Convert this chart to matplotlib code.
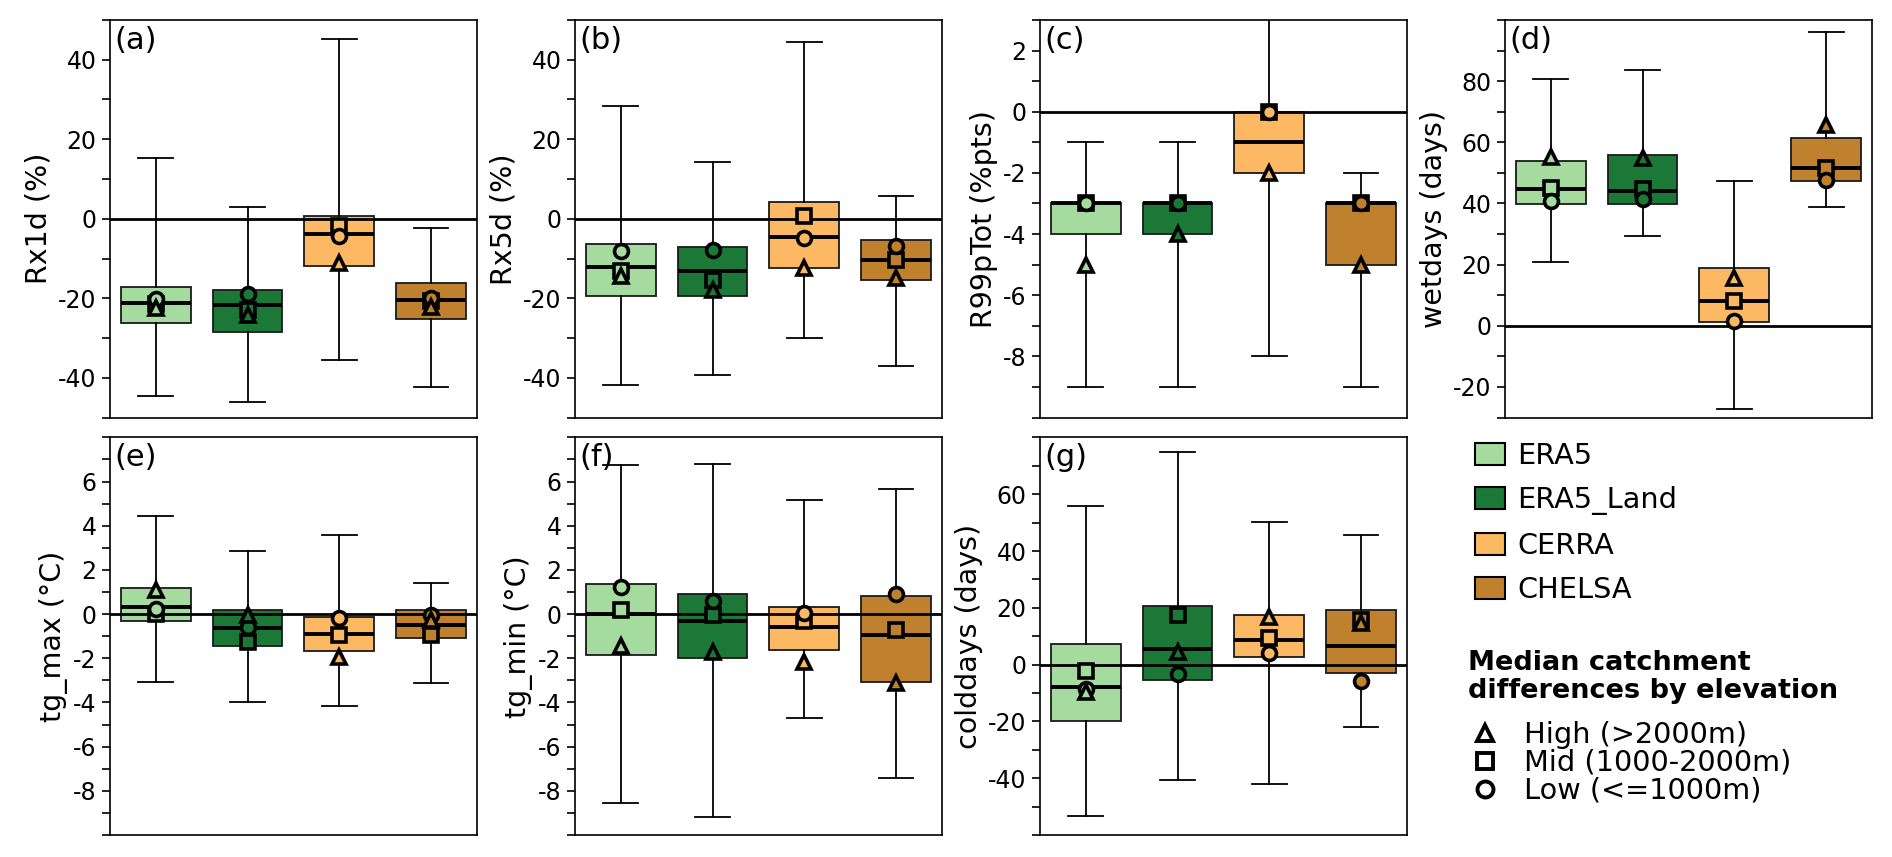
import matplotlib
matplotlib.use("Agg")
import numpy as np
import matplotlib.pyplot as plt
from matplotlib.patches import Patch
from matplotlib.lines import Line2D
from matplotlib.ticker import MultipleLocator

products = ["ERA5", "ERA5_Land", "CERRA", "CHELSA"]
colors = ["#a6dba0", "#1b7837", "#fdb863", "#bf812d"]
elevations = ["High (>2000m)", "Mid (1000-2000m)", "Low (<=1000m)"]

# box stats per product: whislo, q1, median, q3, whishi
rx1d_stats = [(-44.7, -26.2, -21.2, -17.2, 15.4),
              (-46.1, -28.5, -21.6, -17.9, 2.9),
              (-35.5, -12.0, -3.9, 0.6, 45.2),
              (-42.2, -25.2, -20.4, -16.2, -2.3)]
# median catchment difference per elevation band: high, mid, low
rx1d_elev = [(-22.5, -21.5, -20.3), (-24.3, -23.0, -18.9),
             (-11.1, -1.9, -4.4), (-22.2, -20.6, -20.0)]

rx5d_stats = [(-41.8, -19.4, -12.2, -6.4, 28.4),
              (-39.3, -19.5, -13.1, -7.0, 14.2),
              (-30.1, -12.4, -4.5, 4.2, 44.4),
              (-37.0, -15.5, -10.5, -5.3, 5.8)]
rx5d_elev = [(-14.5, -13.2, -8.2), (-17.9, -15.3, -7.8),
             (-12.4, 0.75, -4.9), (-14.9, -10.3, -6.8)]

r99_stats = [(-9, -4, -3, -3, -1),
             (-9, -4, -3, -3, -1),
             (-8, -2, -1, 0, 5),
             (-9, -5, -3, -3, -2)]
r99_elev = [(-5, -3, -3), (-4, -3, -3), (-2, 0, 0), (-5, -3, -3)]

wet_stats = [(20.9, 39.9, 44.7, 53.8, 80.8),
             (29.3, 39.9, 44.2, 55.9, 83.8),
             (-27.3, 1.2, 8.0, 18.9, 47.2),
             (38.7, 47.4, 51.5, 61.5, 96.1)]
wet_elev = [(55.3, 45.0, 40.9), (54.8, 44.7, 41.4),
            (15.7, 8.0, 1.5), (65.7, 51.5, 47.7)]

tgmax_stats = [(-3.07, -0.29, 0.32, 1.2, 4.45),
               (-4.0, -1.46, -0.63, 0.17, 2.86),
               (-4.15, -1.68, -0.89, -0.14, 3.58),
               (-3.14, -1.08, -0.48, 0.17, 1.4)]
tgmax_elev = [(1.07, 0.0, 0.24), (-0.05, -1.26, -0.59),
              (-1.94, -0.93, -0.18), (-0.25, -0.96, -0.06)]

tgmin_stats = [(-8.55, -1.86, 0.02, 1.37, 6.74),
               (-9.2, -1.98, -0.29, 0.92, 6.81),
               (-4.71, -1.61, -0.59, 0.32, 5.16),
               (-7.43, -3.07, -0.96, 0.81, 5.65)]
tgmin_elev = [(-1.46, 0.17, 1.22), (-1.7, -0.06, 0.59),
              (-2.17, -0.29, 0.06), (-3.11, -0.74, 0.89)]

cold_stats = [(-53.3, -19.8, -8.0, 7.1, 55.8),
              (-40.6, -5.3, 5.4, 20.6, 74.9),
              (-41.9, 2.8, 8.5, 17.3, 50.1),
              (-21.9, -3.0, 6.6, 19.3, 45.5)]
cold_elev = [(-9.5, -2.35, -8.5), (4.4, 17.3, -3.3),
             (16.7, 9.3, 4.0), (14.7, 15.7, -5.9)]

panels = [
    ("Rx1d (%)", rx1d_stats, rx1d_elev, (-50, 50), 20),
    ("Rx5d (%)", rx5d_stats, rx5d_elev, (-50, 50), 20),
    ("R99pTot (%pts)", r99_stats, r99_elev, (-10, 3), 2),
    ("wetdays (days)", wet_stats, wet_elev, (-30, 100), 20),
    ("tg_max (°C)", tgmax_stats, tgmax_elev, (-10, 8), 2),
    ("tg_min (°C)", tgmin_stats, tgmin_elev, (-10, 8), 2),
    ("colddays (days)", cold_stats, cold_elev, (-60, 80), 20),
]

plt.rcParams['axes.unicode_minus'] = False
plt.rcParams['axes.linewidth'] = 1.2

fig = plt.figure(figsize=(18.92, 8.57), dpi=100)
gs = fig.add_gridspec(2, 4, left=0.0581, right=0.9894, top=0.9767,
                      bottom=0.0257, wspace=0.267, hspace=0.05)
slots = [(0, 0), (0, 1), (0, 2), (0, 3), (1, 0), (1, 1), (1, 2)]
markers = ["^", "s", "o"]
draw_order = [1, 2, 0]  # squares first, then circles, triangles on top
pos = np.arange(len(products))

for i, (label, stats, elev, ylim, step) in enumerate(panels):
    ax = fig.add_subplot(gs[slots[i]])
    bstats = [dict(whislo=s[0], q1=s[1], med=s[2], q3=s[3], whishi=s[4], fliers=[])
              for s in stats]
    bp = ax.bxp(bstats, positions=pos, widths=0.76, capwidths=0.38,
                patch_artist=True, showfliers=False,
                boxprops=dict(edgecolor='#1a1a1a', linewidth=1.3),
                medianprops=dict(color='k', linewidth=2.8),
                whiskerprops=dict(color='k', linewidth=1.3),
                capprops=dict(color='k', linewidth=1.3))
    for box, c in zip(bp['boxes'], colors):
        box.set_facecolor(c)
    ax.axhline(0, color='k', lw=2, zorder=2.5)
    for j in draw_order:
        for p, c, e in zip(pos, colors, elev):
            ax.plot(p, e[j], marker=markers[j], ms=10, mfc=c, mec='k',
                    mew=2.6, ls='none', zorder=3)

    ax.set_xlim(-0.5, 3.5)
    ax.set_xticks([])
    ax.set_ylim(*ylim)
    lo = np.ceil(ylim[0] / step) * step
    major = [t for t in np.arange(lo, ylim[1] + step, step) if ylim[0] < t < ylim[1]]
    ax.set_yticks(major)
    ax.set_yticklabels([f"{t:g}" for t in major])
    ax.yaxis.set_minor_locator(MultipleLocator(step / 2))
    ax.tick_params(axis='y', which='both', length=6, width=1.2, labelsize=17)
    ax.set_ylabel(label, fontsize=20.5)
    ax.text(0.012, 0.985, "(" + "abcdefg"[i] + ")", transform=ax.transAxes,
            ha='left', va='top', fontsize=22)

ax_leg = fig.add_subplot(gs[1, 3])
ax_leg.axis('off')

fig.legend(handles=[Patch(facecolor=c, edgecolor='k', lw=1.5) for c in colors],
           labels=products, loc='center left',
           bbox_to_anchor=(1475 / 1892, 1 - 523 / 857), frameon=False,
           fontsize=20.7, handlelength=1.04, handleheight=0.8,
           handletextpad=0.42, labelspacing=0.56, borderpad=0, borderaxespad=0)

fig.text(1468 / 1892, 1 - 677 / 857, "Median catchment\ndifferences by elevation",
         ha='left', va='center', fontsize=19.5, fontweight='bold', linespacing=1.1)

fig.legend(handles=[Line2D([], [], ls='none', marker=m, ms=11.5, mfc='white',
                           mec='k', mew=2.8) for m in markers],
           labels=elevations, loc='center left',
           bbox_to_anchor=(1468 / 1892, 1 - 763 / 857), frameon=False,
           fontsize=20.7, handlelength=1.18, handletextpad=0.78,
           labelspacing=0.0, borderpad=0, borderaxespad=0)

fig.savefig("out.png", dpi=100)
